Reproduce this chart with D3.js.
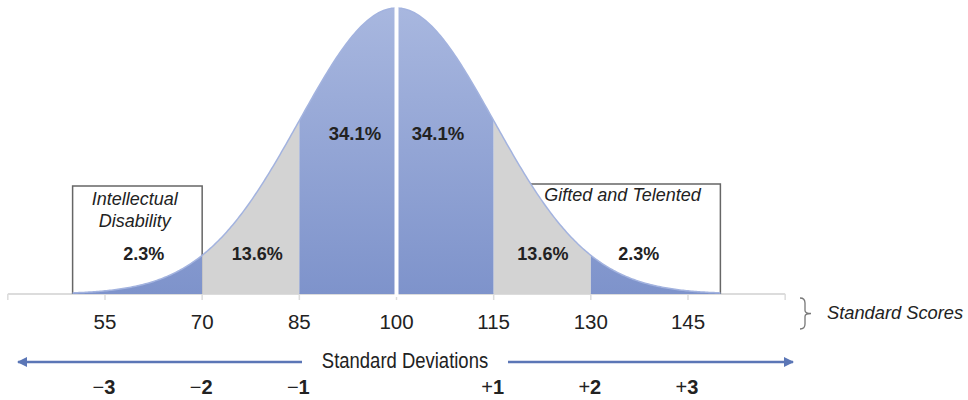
<!DOCTYPE html>
<html>
<head>
<meta charset="utf-8">
<script src="https://cdn.jsdelivr.net/npm/d3@7"></script>
<style>
  html, body { margin: 0; padding: 0; background: #fff; }
  svg { display: block; font-family: "Liberation Sans", Arial, sans-serif; }
</style>
</head>
<body>
<svg id="chart" width="968" height="400"></svg>
<script>
// ---- data ----
const mean = 100;
const sd = 15;
const scoreTicks = [55, 70, 85, 100, 115, 130, 145];
const axisExtent = [40, 160];
const curveExtent = [50, 150];
const bandEdges = [50, 70, 85, 115, 130, 150];
const bandKinds = ["blue", "gray", "blue", "gray", "blue"];
const pctLabels = ["2.3%", "13.6%", "34.1%", "34.1%", "13.6%", "2.3%"];
const pctAt = [61, 78.5, 93.6, 106.4, 122.6, 137.4];
const sdValues = [-3, -2, -1, 1, 2, 3];
const sdSigns = ["\u2212", "\u2212", "\u2212", "+", "+", "+"];
const sdDigits = ["3", "2", "1", "1", "2", "3"];
const leftBoxLabel = ["Intellectual", "Disability"];
const rightBoxLabel = ["Gifted and Telented"];
const leftBoxRange = [50, 70];
const rightBoxRange = [120.8, 150];

// ---- scales ----
const svg = d3.select("#chart");
const x = d3.scaleLinear().domain([55, 145]).range([105, 688]);
const pdf = v => Math.exp(-0.5 * Math.pow((v - mean) / sd, 2));
const y = d3.scaleLinear().domain([0, 1]).range([294, 8]);

const defs = svg.append("defs");
const grad = defs.append("linearGradient").attr("id", "blueGrad")
  .attr("gradientUnits", "userSpaceOnUse")
  .attr("x1", 0).attr("x2", 0).attr("y1", y(1)).attr("y2", y(0));
grad.append("stop").attr("offset", "0%").attr("stop-color", "#a8b7df");
grad.append("stop").attr("offset", "100%").attr("stop-color", "#7e93cb");

const fills = { blue: "url(#blueGrad)", gray: "#d3d3d3" };

// ---- axis ----
const axisG = svg.append("g").attr("transform", `translate(0,${y(0)})`);
axisG.append("line")
  .attr("x1", x(axisExtent[0])).attr("x2", x(axisExtent[1]))
  .attr("stroke", "#dcdcdc").attr("stroke-width", 2);
const allTicks = d3.range(axisExtent[0], axisExtent[1] + 1, 15);
axisG.selectAll("line.tk").data(allTicks).join("line").attr("class", "tk")
  .attr("x1", d => x(d)).attr("x2", d => x(d)).attr("y1", 0).attr("y2", 6)
  .attr("stroke", "#dcdcdc").attr("stroke-width", 1.5);

// ---- boxes (drawn under the curve) ----
function box(range, top) {
  const x0 = x(range[0]), x1 = x(range[1]);
  svg.append("path")
    .attr("d", `M${x0},${y(0)} V${top} H${x1} V${y(0)}`)
    .attr("fill", "none").attr("stroke", "#666").attr("stroke-width", 1.5);
}
box(leftBoxRange, 186);
box(rightBoxRange, 184);

// ---- bands ----
const area = d3.area().x(d => x(d)).y0(y(0)).y1(d => y(pdf(d)));
bandKinds.forEach((k, i) => {
  const a = bandEdges[i], b = bandEdges[i + 1];
  const pts = d3.range(a, b, 0.25).concat([b]);
  svg.append("path").datum(pts).attr("d", area).attr("fill", fills[k]);
});

// outline of curve
const line = d3.line().x(d => x(d)).y(d => y(pdf(d)));
const outlinePts = d3.range(curveExtent[0], curveExtent[1], 0.25).concat([curveExtent[1]]);
svg.append("path").datum(outlinePts).attr("d", line)
  .attr("fill", "none").attr("stroke", "#a3b3df").attr("stroke-width", 1.5);

// white divider at mean
svg.append("line").attr("x1", x(mean)).attr("x2", x(mean))
  .attr("y1", y(1) - 2).attr("y2", y(0) + 3)
  .attr("stroke", "#fff").attr("stroke-width", 4);

// box labels
svg.selectAll("text.lb").data(leftBoxLabel).join("text").attr("class", "lb")
  .attr("x", x(59.6)).attr("y", (d, i) => 205 + i * 22)
  .attr("text-anchor", "middle").attr("font-style", "italic")
  .attr("font-size", 18).attr("fill", "#222").text(d => d);
svg.selectAll("text.rb").data(rightBoxLabel).join("text").attr("class", "rb")
  .attr("x", x(134.9)).attr("y", 201)
  .attr("text-anchor", "middle").attr("font-style", "italic")
  .attr("font-size", 18).attr("fill", "#222").text(d => d);

// percentage labels
svg.selectAll("text.pct").data(pctLabels).join("text").attr("class", "pct")
  .attr("x", (d, i) => x(pctAt[i]))
  .attr("y", (d, i) => (i === 2 || i === 3) ? 140 : 260)
  .attr("text-anchor", "middle").attr("font-weight", "bold")
  .attr("font-size", (d, i) => (i === 2 || i === 3) ? 18.5 : 18)
  .attr("fill", "#222").text(d => d);

// score labels
svg.selectAll("text.sc").data(scoreTicks).join("text").attr("class", "sc")
  .attr("x", d => x(d)).attr("y", 329)
  .attr("text-anchor", "middle").attr("font-size", 20.5)
  .attr("fill", "#222").text(d => d);

// brace + Standard Scores
const bx = 805, bt = 298, bb = 329, bm = (bt + bb) / 2;
svg.append("path")
  .attr("d", `M${bx - 5},${bt} Q${bx},${bt} ${bx},${bt + 5} V${bm - 3} Q${bx},${bm} ${bx + 6},${bm} Q${bx},${bm} ${bx},${bm + 3} V${bb - 5} Q${bx},${bb} ${bx - 5},${bb}`)
  .attr("fill", "none").attr("stroke", "#777").attr("stroke-width", 1.3);
svg.append("text").attr("x", 827).attr("y", 319)
  .attr("font-style", "italic").attr("font-size", 18.3).attr("fill", "#222")
  .text("Standard Scores");

// ---- standard deviations arrow ----
const arrowY = 362;
defs.append("marker").attr("id", "ah").attr("viewBox", "0 0 10 10")
  .attr("refX", 9).attr("refY", 5).attr("markerWidth", 4).attr("markerHeight", 4)
  .attr("orient", "auto-start-reverse")
  .append("path").attr("d", "M0,0 L10,5 L0,10 z").attr("fill", "#5b76b6");
svg.append("line").attr("x1", 302).attr("x2", 18).attr("y1", arrowY).attr("y2", arrowY)
  .attr("stroke", "#5b76b6").attr("stroke-width", 2.5).attr("marker-end", "url(#ah)");
svg.append("line").attr("x1", 508).attr("x2", 793).attr("y1", arrowY).attr("y2", arrowY)
  .attr("stroke", "#5b76b6").attr("stroke-width", 2.5).attr("marker-end", "url(#ah)");
svg.append("text")
  .attr("transform", "translate(405,368) scale(0.84,1)")
  .attr("text-anchor", "middle")
  .attr("font-size", 22).attr("fill", "#222")
  .text("Standard Deviations");

const sdT = svg.selectAll("text.sd").data(sdValues).join("text").attr("class", "sd")
  .attr("x", d => x(mean + d * sd) - 1).attr("y", 394)
  .attr("text-anchor", "middle").attr("font-size", 20).attr("fill", "#222");
sdT.append("tspan").text((d, i) => sdSigns[i]);
sdT.append("tspan").attr("font-weight", "bold").text((d, i) => sdDigits[i]);
</script>
</body>
</html>
